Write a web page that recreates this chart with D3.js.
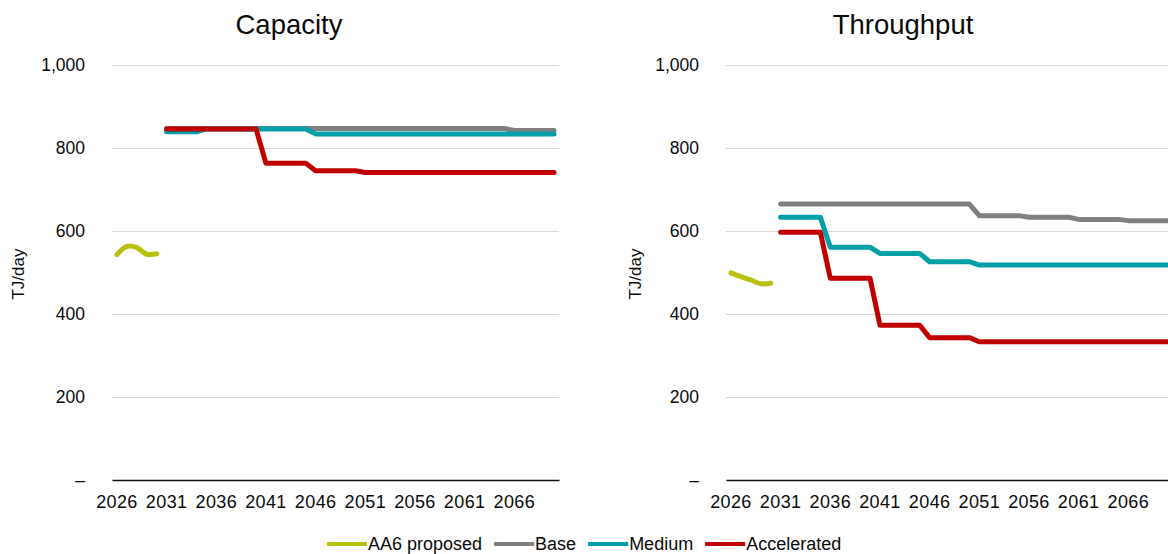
<!DOCTYPE html>
<html>
<head>
<meta charset="utf-8">
<script src="https://cdn.jsdelivr.net/npm/d3@7"></script>
<style>
  html, body { margin: 0; padding: 0; background: #fff; }
  svg { display: block; font-family: "Liberation Sans", Arial, sans-serif; }
</style>
</head>
<body>
<svg id="chart" width="1168" height="554"></svg>
<script>
// Gas network outlook: capacity and throughput by scenario, TJ/day
const years = [2026, 2027, 2028, 2029, 2030, 2031, 2032, 2033, 2034, 2035,
  2036, 2037, 2038, 2039, 2040, 2041, 2042, 2043, 2044, 2045,
  2046, 2047, 2048, 2049, 2050, 2051, 2052, 2053, 2054, 2055,
  2056, 2057, 2058, 2059, 2060, 2061, 2062, 2063, 2064, 2065,
  2066, 2067, 2068, 2069, 2070];
const yearTicks = [2026, 2031, 2036, 2041, 2046, 2051, 2056, 2061, 2066];
const valueTicks = [0, 200, 400, 600, 800, 1000];
const seriesNames = ["AA6 proposed", "Base", "Medium", "Accelerated"];
const panelTitles = ["Capacity", "Throughput"];
const _ = null;

// Capacity (TJ/day)
const capacityAA6 = [543, 563, 560, 544, 545, _, _, _, _, _,
  _, _, _, _, _, _, _, _, _, _,
  _, _, _, _, _, _, _, _, _, _,
  _, _, _, _, _, _, _, _, _, _,
  _, _, _, _, _];
const capacityBase = [_, _, _, _, _, 847, 847, 847, 847, 847,
  847, 847, 847, 847, 847, 847, 847, 847, 847, 847,
  847, 847, 847, 847, 847, 847, 847, 847, 847, 847,
  847, 847, 847, 847, 847, 847, 847, 847, 847, 847,
  842, 842, 842, 842, 842];
const capacityMedium = [_, _, _, _, _, 839, 839, 839, 839, 846,
  846, 846, 846, 846, 846, 846, 846, 846, 846, 846,
  834, 834, 834, 834, 834, 834, 834, 834, 834, 834,
  834, 834, 834, 834, 834, 834, 834, 834, 834, 834,
  834, 834, 834, 834, 834];
const capacityAccelerated = [_, _, _, _, _, 846, 846, 846, 846, 846,
  846, 846, 846, 846, 846, 763, 763, 763, 763, 763,
  745, 745, 745, 745, 745, 741, 741, 741, 741, 741,
  741, 741, 741, 741, 741, 741, 741, 741, 741, 741,
  741, 741, 741, 741, 741];

// Throughput (TJ/day)
const throughputAA6 = [499, 490, 482, 473, 474, _, _, _, _, _,
  _, _, _, _, _, _, _, _, _, _,
  _, _, _, _, _, _, _, _, _, _,
  _, _, _, _, _, _, _, _, _, _,
  _, _, _, _, _];
const throughputBase = [_, _, _, _, _, 665, 665, 665, 665, 665,
  665, 665, 665, 665, 665, 665, 665, 665, 665, 665,
  665, 665, 665, 665, 665, 637, 637, 637, 637, 637,
  633, 633, 633, 633, 633, 628, 628, 628, 628, 628,
  625, 625, 625, 625, 625];
const throughputMedium = [_, _, _, _, _, 633, 633, 633, 633, 633,
  561, 561, 561, 561, 561, 546, 546, 546, 546, 546,
  526, 526, 526, 526, 526, 518, 518, 518, 518, 518,
  518, 518, 518, 518, 518, 518, 518, 518, 518, 518,
  518, 518, 518, 518, 518];
const throughputAccelerated = [_, _, _, _, _, 597, 597, 597, 597, 597,
  486, 486, 486, 486, 486, 373, 373, 373, 373, 373,
  343, 343, 343, 343, 343, 333, 333, 333, 333, 333,
  333, 333, 333, 333, 333, 333, 333, 333, 333, 333,
  333, 333, 333, 333, 333];

const colors = ["#b8c20e", "#808080", "#02a0a6", "#c00000"];

const panels = [
  { title: panelTitles[0], series: [capacityAA6, capacityBase, capacityMedium, capacityAccelerated],
    left: 112, titleX: 289, labelX: 24 },
  { title: panelTitles[1], series: [throughputAA6, throughputBase, throughputMedium, throughputAccelerated],
    left: 726, titleX: 903, labelX: 641 }
];

const svg = d3.select("#chart");
const plotW = 447, plotTop = 65, plotBottom = 480;
const textColor = "#0a0a0a";
const fontStack = "'Liberation Sans', Arial, sans-serif";

const y = d3.scaleLinear().domain([0, 1000]).range([plotBottom, plotTop]);

panels.forEach(p => {
  const x = d3.scaleBand().domain(years).range([p.left, p.left + plotW]).padding(0);
  const g = svg.append("g");

  // horizontal gridlines and value labels
  const yAxis = g.append("g")
    .attr("transform", `translate(${p.left},0)`)
    .call(d3.axisLeft(y).tickValues(valueTicks).tickSize(-plotW).tickPadding(27)
      .tickFormat(d => d === 0 ? "\u2013" : d3.format(",")(d)));
  yAxis.select(".domain").remove();
  yAxis.selectAll(".tick line").attr("stroke", "#d9d9d9").attr("stroke-width", 1.2)
    .filter(d => d === 0).remove();
  yAxis.selectAll(".tick text").attr("fill", textColor)
    .style("font-size", "17.5px").style("font-family", fontStack);

  // category axis
  const xAxis = g.append("g")
    .attr("transform", `translate(0,${plotBottom})`)
    .call(d3.axisBottom(x).tickValues(yearTicks).tickSize(0).tickPadding(15));
  xAxis.select(".domain").attr("stroke", "#111").attr("stroke-width", 1.6);
  xAxis.selectAll(".tick text").attr("fill", textColor)
    .style("font-size", "18px").style("letter-spacing", "0.4px")
    .style("font-family", fontStack);

  // series lines
  p.series.forEach((vals, i) => {
    const pts = years.map((yr, k) => ({ yr, v: vals[k] }));
    const line = d3.line()
      .defined(d => d.v != null)
      .x(d => x(d.yr) + x.bandwidth() / 2)
      .y(d => y(d.v))
      .curve(i === 0 ? d3.curveCatmullRom.alpha(0.5) : d3.curveLinear);
    g.append("path")
      .datum(pts)
      .attr("d", line)
      .attr("fill", "none")
      .attr("stroke", colors[i])
      .attr("stroke-width", 5)
      .attr("stroke-linecap", "round")
      .attr("stroke-linejoin", "round");
  });

  // panel title
  svg.append("text")
    .attr("x", p.titleX).attr("y", 34)
    .attr("text-anchor", "middle")
    .attr("fill", textColor)
    .style("font-size", "27.5px")
    .text(p.title);

  // value axis title
  svg.append("text")
    .attr("transform", `translate(${p.labelX},274) rotate(-90)`)
    .attr("text-anchor", "middle")
    .attr("fill", textColor)
    .style("font-size", "17px")
    .text("TJ/day");
});

// legend
const legend = svg.append("g").attr("transform", "translate(327,544)");
let lx = 0;
seriesNames.forEach((name, i) => {
  legend.append("line")
    .attr("x1", lx).attr("x2", lx + 40).attr("y1", 0).attr("y2", 0)
    .attr("stroke", colors[i]).attr("stroke-width", 4);
  const t = legend.append("text")
    .attr("x", lx + 41).attr("y", 0).attr("dy", "0.35em")
    .attr("fill", textColor)
    .style("font-size", "18px")
    .text(name);
  lx += 41 + t.node().getComputedTextLength() + 12;
});
</script>
</body>
</html>
